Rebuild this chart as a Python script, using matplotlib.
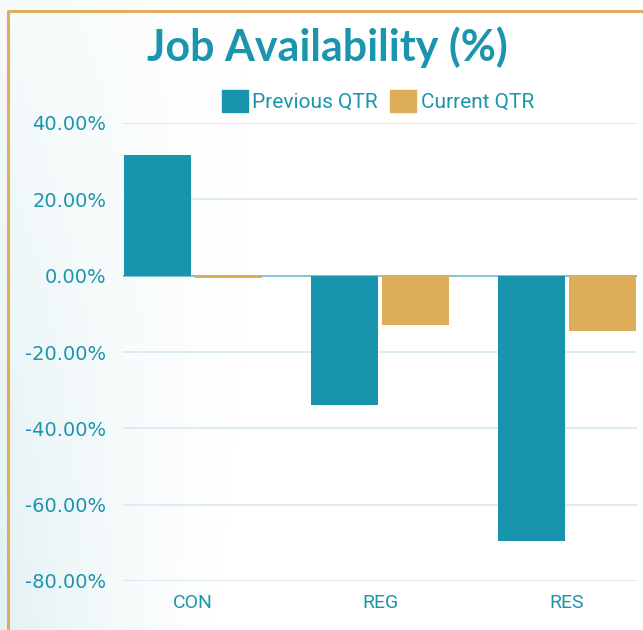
import numpy as np
import matplotlib
matplotlib.use("Agg")
import matplotlib.pyplot as plt
from matplotlib.patches import Patch
from matplotlib.lines import Line2D

categories = ["CON", "REG", "RES"]
previous_qtr = [31.6, -33.9, -69.5]
current_qtr = [-0.6, -12.9, -14.4]
y_ticks = [40, 20, 0, -20, -40, -60, -80]
y_tick_labels = ["40.00%", "20.00%", "0.00%", "-20.00%", "-40.00%", "-60.00%", "-80.00%"]
series_names = ["Previous QTR", "Current QTR"]
title = "Job Availability (%)"

TEAL = "#1895ad"
GOLD = "#ddae5a"
TEXT = "#1b95ad"
GRID = "#d6eaf0"
ZERO = "#7fc5d5"
BORDER = "#dcae5d"

W, H = 643, 630
fig = plt.figure(figsize=(W / 100, H / 100), dpi=100)
fig.patch.set_facecolor("white")

# background gradient (decorative)
bg = fig.add_axes([0, 0, 1, 1], zorder=-10)
yy, xx = np.mgrid[0:H, 0:W].astype(float)
wid = 215 + 30 * np.clip((630 - yy) / 300, 0, 1)
f = np.clip(1 - xx / wid, 0, 1) ** 1.3 * (0.35 + 0.65 * (yy / H))
base = np.array([0.89, 0.945, 0.955])
img = np.ones((H, W, 3)) * (1 - f[..., None]) + base * f[..., None]
bg.imshow(img, extent=[0, W, H, 0], aspect="auto", interpolation="bilinear")
bg.set_xlim(0, W)
bg.set_ylim(H, 0)
bg.axis("off")
# gold border lines (top and left)
bg.add_line(Line2D([8, W], [11, 11], color=BORDER, lw=2.2, solid_capstyle="butt"))
bg.add_line(Line2D([8, 8], [10, H], color=BORDER, lw=2.2, solid_capstyle="butt"))
bg.fill_between([0, W], 0, 10, color="white", zorder=-1)

ax = fig.add_axes([123 / W, 49 / H, 514 / W, 458 / H])
ax.patch.set_alpha(0)
x = np.arange(len(categories))
bw = 0.36
off = 0.19
ax.bar(x - off, previous_qtr, bw, color=TEAL, label=series_names[0], zorder=3)
ax.bar(x + off, current_qtr, bw, color=GOLD, label=series_names[1], zorder=3)
ax.axhline(0, color=ZERO, lw=1.4, zorder=2)

ax.set_xlim(-0.376, 2.376)
ax.set_ylim(-80, 40)
ax.set_yticks(y_ticks)
ax.set_yticklabels(y_tick_labels)
ax.set_xticks(x)
ax.set_xticklabels(categories)
ax.grid(axis="y", color=GRID, lw=1.2, zorder=0)
ax.grid(axis="x", visible=False)
for s in ax.spines.values():
    s.set_visible(False)
ax.tick_params(axis="y", length=0, pad=12, labelcolor=TEXT, labelsize=14)
ax.tick_params(axis="x", length=0, pad=9.5, labelcolor=TEXT, labelsize=14)
for lab in ax.get_yticklabels():
    lab.set_family("DejaVu Sans")
for lab in ax.get_xticklabels():
    lab.set_family(["Roboto", "DejaVu Sans"])

handles = [Patch(color=TEAL), Patch(color=GOLD)]
leg = fig.legend(handles, series_names, loc="center", bbox_to_anchor=(378 / W, 1 - 101 / H),
                 ncol=2, frameon=False, handlelength=1.25, handleheight=1.2,
                 handletextpad=0.2, columnspacing=0.6, borderpad=0,
                 prop={"family": ["Roboto", "DejaVu Sans"], "size": 15})
for t in leg.get_texts():
    t.set_color(TEXT)

t = fig.text(327 / W, 1 - 47 / H, title, ha="center", va="center", color=TEXT,
             fontsize=30, fontweight="bold", family=["Lato", "DejaVu Sans"])
fig.canvas.draw()
ext = t.get_window_extent()
t.set_fontsize(30 * 361 / ext.width)

fig.savefig("out.png", dpi=100)
